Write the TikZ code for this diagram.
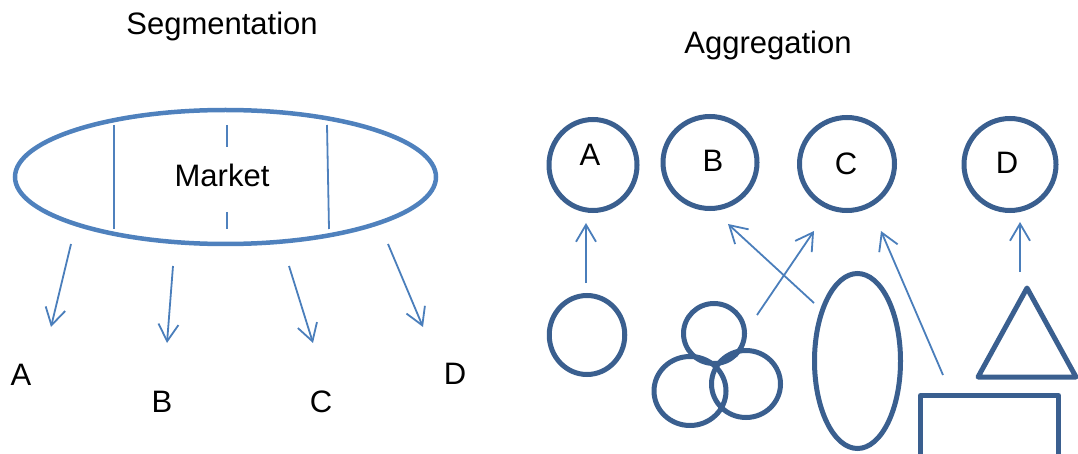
\documentclass[tikz,border=0pt]{standalone}
\usepackage{fontspec}
\setmainfont{Liberation Sans}
\usetikzlibrary{arrows.meta,shapes.geometric}
\definecolor{lightblue}{HTML}{4F81BD}
\definecolor{arrowblue}{HTML}{4A7EBB}
\definecolor{darkblue}{HTML}{3A5F8F}
\begin{document}
\begin{tikzpicture}[x=1pt,y=-1pt,
  label/.style={font=\fontsize{31}{37}\selectfont, anchor=base, inner sep=0pt},
  outline/.style={ellipse, draw=darkblue, line width=5pt, inner sep=0pt},
  thinline/.style={draw=lightblue, line width=1.8pt},
  pointer/.style={draw=arrowblue, line width=1.8pt,
    -{Straight Barb[length=17pt,width=20pt,line width=1.8pt]}}]
\useasboundingbox (0,0) rectangle (1078,454);
\clip (0,0) rectangle (1078,454);

% ---- Segmentation ----
\node[label] (segtitle) at (222,35) {Segmentation};
\node[ellipse, draw=lightblue, line width=4.5pt, inner sep=0pt,
      minimum width=421pt, minimum height=134pt] (market) at (225.5,177) {};
\node[label] (markettext) at (222,187) {Market};
\coordinate (l1a) at (114,125); \coordinate (l1b) at (114,229);
\coordinate (l3a) at (327,125); \coordinate (l3b) at (329,229);
\draw[thinline] (l1a) -- (l1b);
\draw[thinline] (l3a) -- (l3b);
\draw[thinline] (227,125) -- (227,147) (227,212) -- (227,229);

\coordinate (sa1) at (71,244);  \coordinate (sa2) at (51,327);
\coordinate (sb1) at (173,266); \coordinate (sb2) at (167,343);
\coordinate (sc1) at (289,266); \coordinate (sc2) at (313,343);
\coordinate (sd1) at (388,244); \coordinate (sd2) at (423,327);
\draw[pointer] (sa1) -- (sa2);
\draw[pointer] (sb1) -- (sb2);
\draw[pointer] (sc1) -- (sc2);
\draw[pointer] (sd1) -- (sd2);
\node[label] (segA) at (21,385) {A};
\node[label] (segB) at (162,412) {B};
\node[label] (segC) at (321,412) {C};
\node[label] (segD) at (455,384) {D};

% ---- Aggregation ----
\node[label] (aggtitle) at (768,54) {Aggregation};
\node[outline, minimum width=88pt, minimum height=91pt] (cA) at (593,165) {};
\node[outline, minimum width=94pt, minimum height=92pt] (cB) at (710,162.5) {};
\node[outline, minimum width=95pt, minimum height=93pt] (cC) at (847,164) {};
\node[outline, minimum width=92pt, minimum height=92pt] (cD) at (1010,164.5) {};
\node[label] (tA) at (590,166) {A};
\node[label] (tB) at (713,172) {B};
\node[label] (tC) at (846,175) {C};
\node[label] (tD) at (1007,174) {D};

% source shapes
\node[outline, minimum width=75.5pt, minimum height=79pt] (single) at (587,335) {};
\node[outline, minimum width=61pt, minimum height=60pt] (trioTop) at (714,333.5) {};
\node[outline, minimum width=72pt, minimum height=69pt] (trioLeft) at (690,391) {};
\node[outline, minimum width=69pt, minimum height=67pt] (trioRight) at (746,384) {};
\node[outline, minimum width=86pt, minimum height=175pt] (tall) at (857.5,361) {};
\coordinate (triTop) at (1027,288);
\coordinate (triLeft) at (978,377);
\coordinate (triRight) at (1076,377);
\draw[darkblue, line width=5pt, line join=round] (triTop) -- (triLeft) -- (triRight) -- cycle;
\draw[darkblue, line width=5pt, line join=round] (920.5,480) |- (1058.5,395.5) -- (1058.5,480);

% arrows to the groups
\coordinate (pa1) at (586,283);  \coordinate (pa2) at (586,223);
\coordinate (pb1) at (814,303);  \coordinate (pb2) at (728,224);
\coordinate (pc1) at (757,315);  \coordinate (pc2) at (814,231);
\coordinate (pe1) at (943,375);  \coordinate (pe2) at (881,231);
\coordinate (pd1) at (1020,272); \coordinate (pd2) at (1020,222);
\draw[pointer] (pa1) -- (pa2);
\draw[pointer] (pb1) -- (pb2);
\draw[pointer] (pc1) -- (pc2);
\draw[pointer] (pe1) -- (pe2);
\draw[pointer] (pd1) -- (pd2);
\end{tikzpicture}
\end{document}
